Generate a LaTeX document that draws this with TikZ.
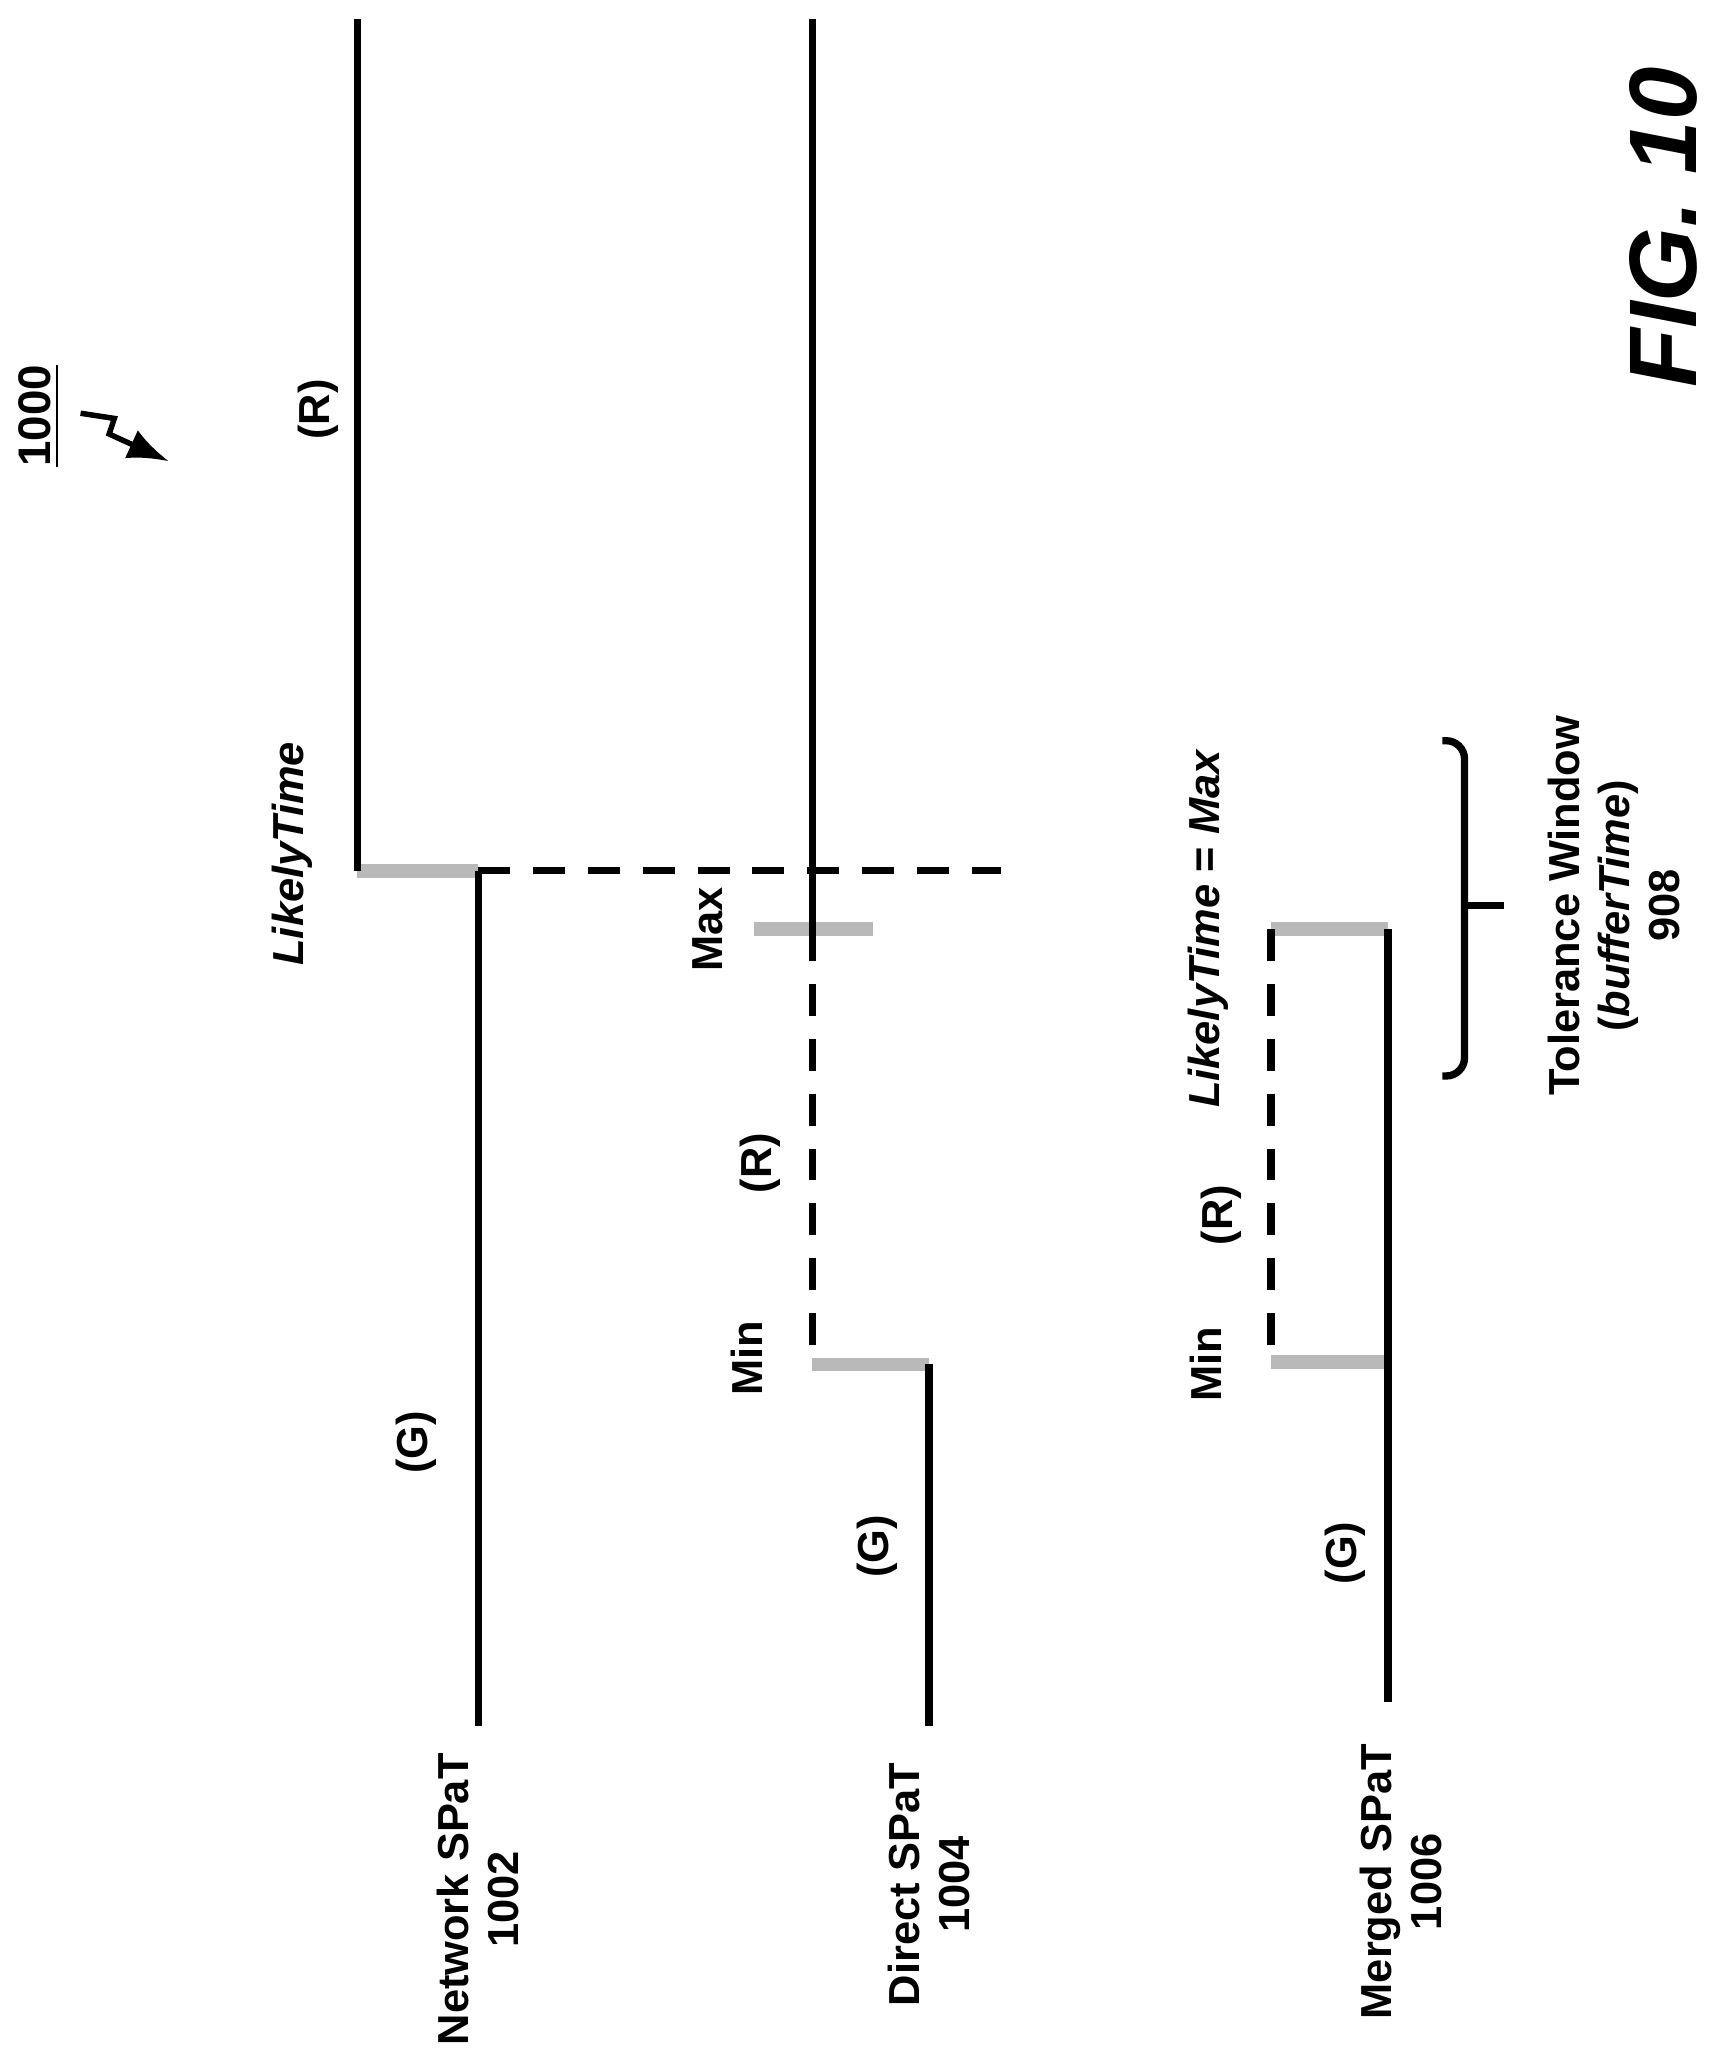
\documentclass[tikz,border=0pt]{standalone}
\usepackage{fontspec}
\setmainfont{Liberation Sans}
\usetikzlibrary{arrows.meta}
\tikzset{
  lbl/.style={rotate=90, font=\fontsize{9.5}{11}\selectfont\bfseries, align=center, inner sep=1pt},
  sig/.style={line width=1.6pt},
  dsig/.style={line width=1.6pt, dash pattern=on 7pt off 5pt},
  bar/.style={line width=3pt, gray!55},
}
\begin{document}
\begin{tikzpicture}[x=0.01cm, y=-0.01cm]
    \useasboundingbox (0,0) rectangle (1330,1576);
    % reference numeral
    \node[lbl, font=\fontsize{10}{12}\selectfont\bfseries] (num) at (30,320) {\underline{1000}};
    \draw[-{Latex[length=9pt]}, line width=1.2pt] (62,318) -- (88,322) -- (84,334) -- (130,355);

    % network SPaT
    \coordinate (nTop) at (275,15);
    \coordinate (nLik) at (275,670);
    \coordinate (nStep) at (368,670);
    \coordinate (nEnd) at (368,1328);
    \coordinate (nDash) at (770,670);
    \draw[bar] (nLik) -- (nStep);
    \draw[sig] (nTop) -- (nLik);
    \draw[sig] (nStep) -- (nEnd);
    \draw[line width=1.4pt, dash pattern=on 7pt off 5pt] (nStep) -- (nDash);
    \node[lbl] (nR) at (245,315) {(R)};
    \node[lbl] (nG) at (320,1110) {(G)};
    \node[lbl] (lik) at (225,657) {\itshape LikelyTime};
    \node[lbl, anchor=east] (nName) at (368,1345) {Network SPaT\\1002};

    % direct SPaT
    \coordinate (dTop) at (625,15);
    \coordinate (dMax) at (625,715);
    \coordinate (dMin) at (625,1050);
    \coordinate (dStep) at (715,1050);
    \coordinate (dEnd) at (715,1328);
    \draw[bar] (580,715) -- (672,715);
    \draw[bar] (dMin) -- (dStep);
    \draw[sig] (dTop) -- (dMax);
    \draw[dsig] (dMax) -- (dMin);
    \draw[sig] (dStep) -- (dEnd);
    \node[lbl] (dMaxL) at (545,715) {Max};
    \node[lbl] (dR) at (585,895) {(R)};
    \node[lbl] (dMinL) at (575,1045) {Min};
    \node[lbl] (dG) at (675,1190) {(G)};
    \node[lbl, anchor=east] (dName) at (715,1352) {Direct SPaT\\1004};

    % merged SPaT
    \coordinate (mMax) at (978,715);
    \coordinate (mMin) at (978,1048);
    \coordinate (mTop) at (1068,715);
    \coordinate (mStep) at (1068,1048);
    \coordinate (mEnd) at (1068,1310);
    \draw[bar] (mMax) -- (mTop);
    \draw[bar] (mMin) -- (mStep);
    \draw[dsig] (mMax) -- (mMin);
    \draw[sig] (mTop) -- (mEnd);
    \node[lbl] (mLik) at (930,715) {\itshape LikelyTime\/\upshape\ = \itshape Max};
    \node[lbl] (mR) at (940,935) {(R)};
    \node[lbl] (mMinL) at (928,1050) {Min};
    \node[lbl] (mG) at (1035,1195) {(G)};
    \node[lbl, anchor=east] (mName) at (1078,1338) {Merged SPaT\\1006};

    % tolerance window
    \coordinate (bA) at (1110,828);
    \coordinate (bB) at (1110,570);
    \coordinate (bMid) at (1127,697);
    \coordinate (bTip) at (1157,697);
    \draw[line width=1.6pt, rounded corners=4pt] (bA) -- (1127,828) -- (1127,570) -- (bB);
    \draw[line width=1.6pt] (bMid) -- (bTip);
    \node[lbl] (tol) at (1242,697) {Tolerance Window\\(\itshape bufferTime\upshape)\\908};

    \node[rotate=90, font=\fontsize{21}{25}\selectfont\bfseries\itshape] (fig) at (1280,175) {FIG. 10};
\end{tikzpicture}
\end{document}
